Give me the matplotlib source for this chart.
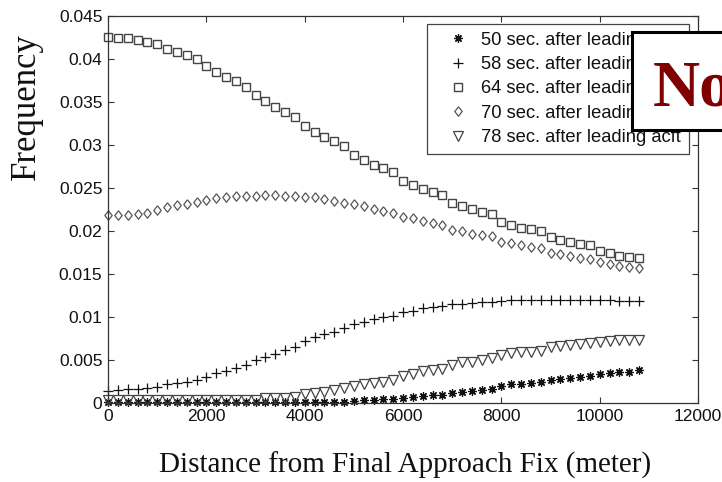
import matplotlib
matplotlib.use("Agg")
import matplotlib.pyplot as plt
from matplotlib.patches import Rectangle

# ---------------- data ----------------
distance = [0, 200, 400, 600, 800, 1000, 1200, 1400, 1600, 1800,
            2000, 2200, 2400, 2600, 2800, 3000, 3200, 3400, 3600, 3800,
            4000, 4200, 4400, 4600, 4800, 5000, 5200, 5400, 5600, 5800,
            6000, 6200, 6400, 6600, 6800, 7000, 7200, 7400, 7600, 7800,
            8000, 8200, 8400, 8600, 8800, 9000, 9200, 9400, 9600, 9800,
            10000, 10200, 10400, 10600, 10800]

s50 = [0.0001, 0.0001, 0.0001, 0.0001, 0.0001, 0.0001, 0.0001, 0.0001, 0.0001, 0.0001,
       0.0001, 0.0001, 0.0001, 0.0001, 0.0001, 0.0001, 0.0001, 0.0001, 0.0001, 0.0001,
       0.0001, 0.0001, 0.0001, 0.00012, 0.00015, 0.00023, 0.00035, 0.0004, 0.00042, 0.00049,
       0.00058, 0.0007, 0.0008, 0.00088, 0.00095, 0.00117, 0.0013, 0.00138, 0.00151, 0.00159,
       0.00201, 0.00217, 0.00225, 0.00233, 0.00241, 0.00267, 0.00279, 0.00294, 0.00306, 0.00314,
       0.00337, 0.00352, 0.00357, 0.00364, 0.00384]

s58 = [0.00143, 0.00151, 0.00159, 0.00163, 0.00171, 0.0019, 0.00217, 0.00236, 0.00248, 0.00267,
       0.00306, 0.00345, 0.00376, 0.00403, 0.00442, 0.005, 0.00538, 0.0057, 0.00616, 0.00655,
       0.00724, 0.00763, 0.00798, 0.00829, 0.00868, 0.00919, 0.00938, 0.00973, 0.01004, 0.01012,
       0.01056, 0.01071, 0.01101, 0.01116, 0.01128, 0.01149, 0.01151, 0.01165, 0.01178, 0.01178,
       0.0119, 0.01195, 0.0120, 0.0120, 0.0120, 0.0120, 0.0120, 0.0120, 0.0120, 0.0120,
       0.01195, 0.01195, 0.0119, 0.0119, 0.0119]

s64 = [0.0426, 0.04248, 0.04248, 0.04221, 0.04198, 0.0417, 0.0412, 0.04085, 0.04047, 0.03996,
       0.03919, 0.03852, 0.03794, 0.0374, 0.03678, 0.03581, 0.03515, 0.03445, 0.03387, 0.03329,
       0.03221, 0.03155, 0.03097, 0.03042, 0.02992, 0.02884, 0.02826, 0.02767, 0.02729, 0.0269,
       0.0258, 0.02535, 0.02485, 0.0245, 0.02419, 0.02325, 0.02292, 0.02252, 0.02221, 0.02198,
       0.02105, 0.0207, 0.02038, 0.0202, 0.02003, 0.01927, 0.01895, 0.01872, 0.01852, 0.01837,
       0.01771, 0.01741, 0.01713, 0.01701, 0.0169]

s70 = [0.02182, 0.02182, 0.02189, 0.02201, 0.02213, 0.02244, 0.02283, 0.02302, 0.02314, 0.02333,
       0.0236, 0.0238, 0.02391, 0.02407, 0.02407, 0.0241, 0.02422, 0.02419, 0.0241, 0.02407,
       0.02391, 0.02391, 0.02372, 0.02352, 0.02329, 0.02314, 0.02291, 0.02256, 0.02232, 0.02208,
       0.02165, 0.0215, 0.0212, 0.0209, 0.02068, 0.02016, 0.0200, 0.01965, 0.01953, 0.01942,
       0.01876, 0.01857, 0.01837, 0.01817, 0.01798, 0.01748, 0.01733, 0.01709, 0.0169, 0.01678,
       0.01636, 0.01616, 0.01597, 0.01578, 0.01574]

s78 = [0.0003, 0.0003, 0.0003, 0.0003, 0.0003, 0.0003, 0.0003, 0.0003, 0.0003, 0.0003,
       0.0003, 0.0003, 0.0003, 0.0003, 0.00035, 0.0004, 0.00055, 0.00055, 0.00062, 0.00073,
       0.0011, 0.0012, 0.0013, 0.0015, 0.0017, 0.0020, 0.0022, 0.0023, 0.0025, 0.0027,
       0.0031, 0.0034, 0.00372, 0.0038, 0.00391, 0.00446, 0.00471, 0.0048, 0.005, 0.0052,
       0.00558, 0.00578, 0.0059, 0.00597, 0.00608, 0.00647, 0.00666, 0.00674, 0.00682, 0.00694,
       0.00713, 0.00724, 0.00733, 0.00735, 0.00735]

labels = ["50 sec. after leading acft", "58 sec. after leading acft",
          "64 sec. after leading acft", "70 sec. after leading acft",
          "78 sec. after leading acft"]

xticks = [0, 2000, 4000, 6000, 8000, 10000, 12000]
xticklabels = ["0", "2000", "4000", "6000", "8000", "10000", "12000"]
yticks = [0, 0.005, 0.01, 0.015, 0.02, 0.025, 0.03, 0.035, 0.04, 0.045]
yticklabels = ["0", "0.005", "0.01", "0.015", "0.02", "0.025", "0.03", "0.035", "0.04", "0.045"]

# ---------------- figure ----------------
W, H = 722, 482
fig = plt.figure(figsize=(W / 100, H / 100), dpi=100)
fig.patch.set_facecolor("white")
ax = fig.add_axes([108 / W, 1 - 403 / H, 590 / W, 387 / H])

diamond = [(0, 1), (0.78, 0), (0, -1), (-0.78, 0), (0, 1)]

styles = [
    dict(marker=(8, 2, 0), ms=6.0, mec="#111111", mfc="#111111", mew=0.9),
    dict(marker="+", ms=7.0, mec="#111111", mfc="none", mew=0.9),
    dict(marker="s", ms=6.2, mec="#444444", mfc="none", mew=1.0),
    dict(marker=diamond, ms=6.8, mec="#555555", mfc="none", mew=0.9),
    dict(marker="v", ms=6.8, mec="#444444", mfc="none", mew=0.9),
]
series = [s50, s58, s64, s70, s78]
for vals, lab, st in zip(series, labels, styles):
    ax.plot(distance, vals, linestyle="none", label=lab, clip_on=False, **st)

ax.set_xlim(0, 12000)
ax.set_ylim(0, 0.045)
ax.set_xticks(xticks)
ax.set_xticklabels(xticklabels)
ax.set_yticks(yticks)
ax.set_yticklabels(yticklabels)
for lab in ax.get_xticklabels() + ax.get_yticklabels():
    lab.set_fontfamily("Liberation Sans")
    lab.set_fontsize(12.5)
    lab.set_color("#111111")
ax.tick_params(direction="in", length=4, width=0.8, color="#333333",
               top=True, right=True, pad=4)
for sp in ax.spines.values():
    sp.set_color("#333333")
    sp.set_linewidth(0.9)

fig.text(405 / W, 1 - 473 / H, "Distance from Final Approach Fix (meter)",
         ha="center", va="baseline", fontsize=21, family="Liberation Serif",
         color="#111111")
fig.text(26 / W, 1 - 107 / H, "Frequency", ha="center", va="center",
         rotation=90, fontsize=25, family="Liberation Serif", color="#111111")

leg = ax.legend(loc="upper left", bbox_to_anchor=(427 / W, 1 - 24 / H),
                bbox_transform=fig.transFigure,
                prop={"family": "Liberation Sans", "size": 13.2},
                numpoints=1, handlelength=2.55, handletextpad=0.0, borderpad=0.42,
                labelspacing=0.4, borderaxespad=0, fancybox=False, framealpha=1)
leg.get_frame().set_edgecolor("#444444")
leg.get_frame().set_linewidth(0.9)
for t in leg.get_texts():
    t.set_color("#111111")

rect = Rectangle((632 / W, 1 - 130 / H), 0.2, 98 / H, transform=fig.transFigure,
                 facecolor="white", edgecolor="black", linewidth=2.2, zorder=5)
fig.patches.append(rect)
fig.text(653 / W, 1 - 105 / H, "No", ha="left", va="baseline", fontsize=47,
         fontweight="bold", family="Liberation Serif", color="#800000", zorder=6)

fig.savefig("out.png", dpi=100)
